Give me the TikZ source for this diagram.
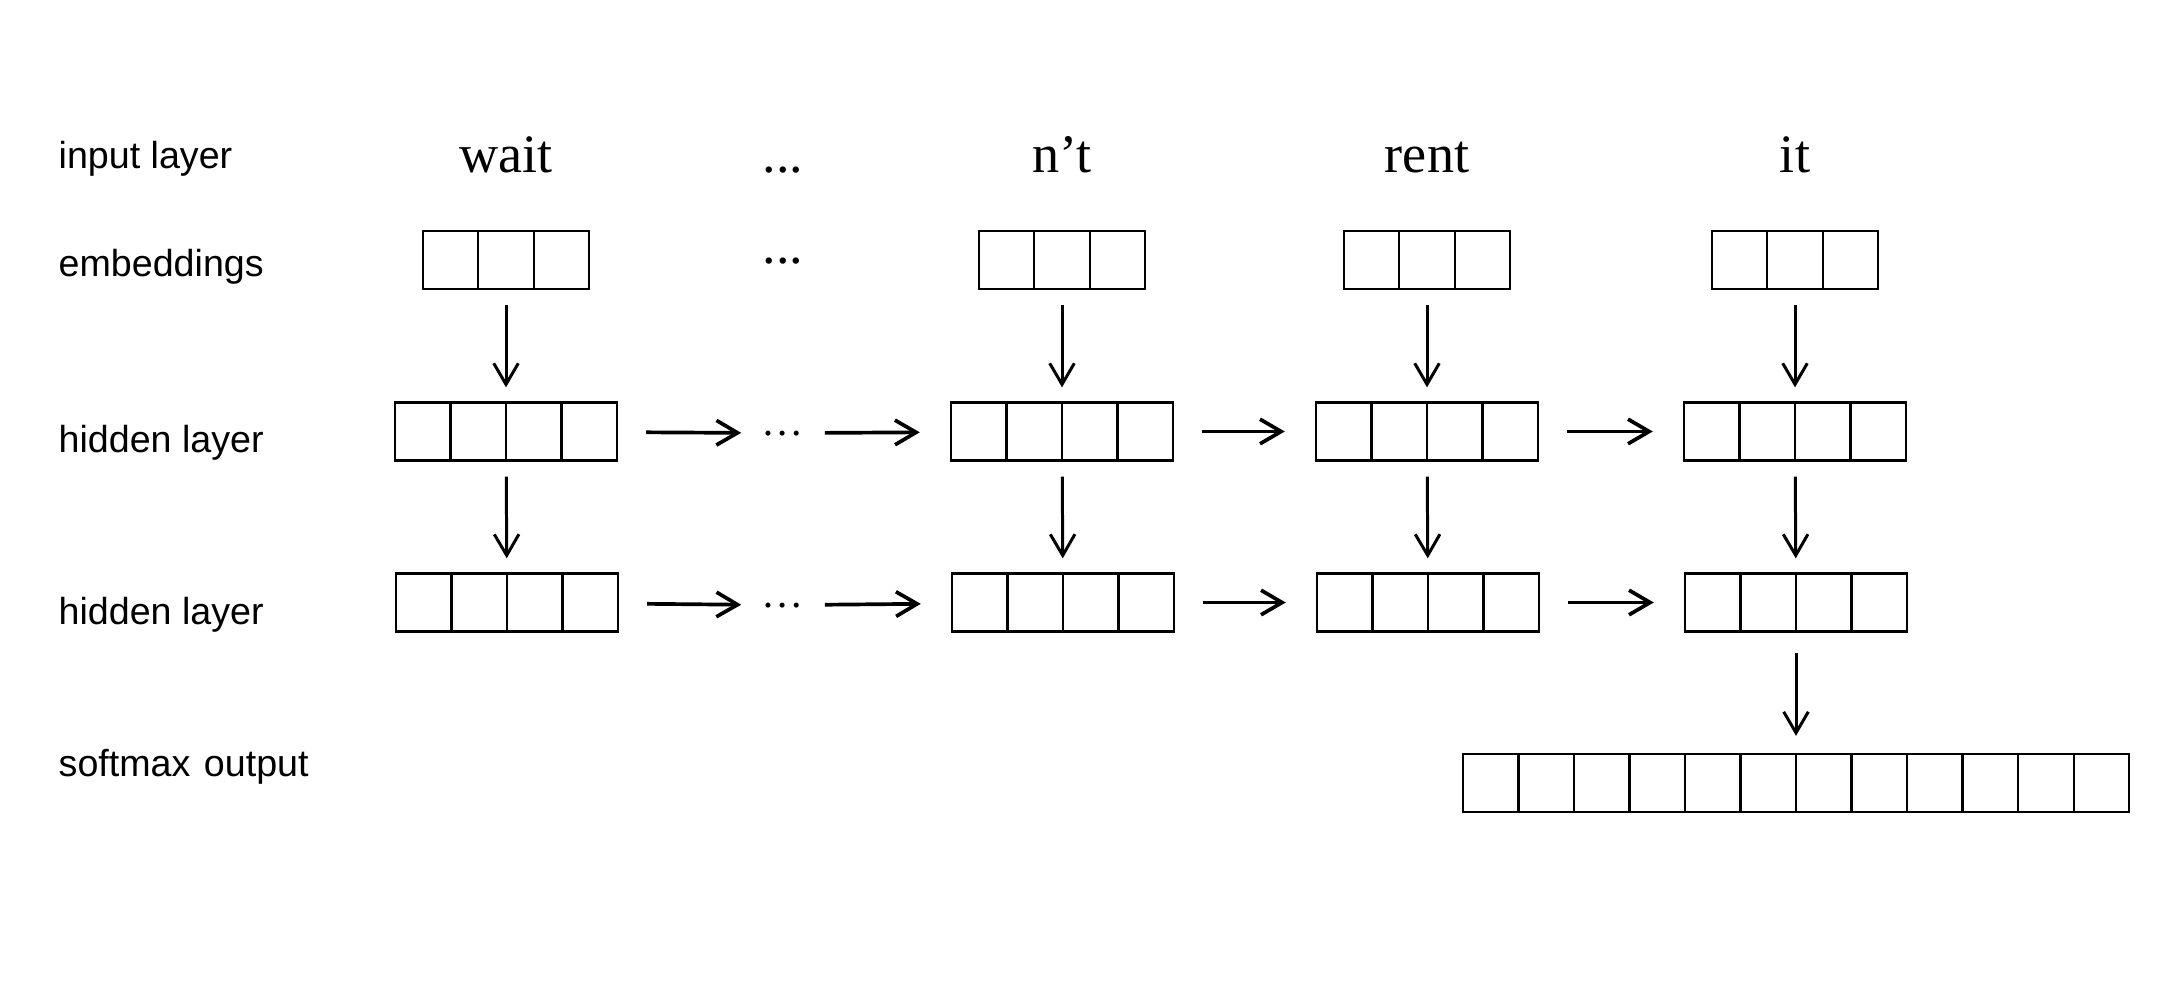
\documentclass[tikz,border=0pt]{standalone}
\usepackage{fontspec}
\setmainfont{Liberation Serif}
\newfontfamily\labelfont{Liberation Sans}
\usetikzlibrary{arrows.meta}
\begin{document}
\begin{tikzpicture}[x=0.01cm, y=-0.01cm,
  vec/.style={draw, line width=0.65pt, inner sep=0pt,
    minimum height=0.58cm, minimum width=#1*0.555cm,
    path picture={\foreach \k in {2,...,#1}{
      \draw[line width=0.65pt]
        ([xshift={(\k-1)*0.555cm}]path picture bounding box.north west) --
        ([xshift={(\k-1)*0.555cm}]path picture bounding box.south west);}}},
  rowlabel/.style={anchor=base west, inner sep=0pt, font=\labelfont\fontsize{10.7pt}{12pt}\selectfont},
  word/.style={anchor=base, inner sep=0pt, font=\fontsize{15.4pt}{18pt}\selectfont},
  smalldots/.style={anchor=base, inner sep=0pt, font=\fontsize{12pt}{14pt}\selectfont},
  down/.style={-{Straight Barb[length=6pt,width=7pt]}, line width=0.85pt,
    shorten <=0.15cm, shorten >=0.14cm},
  across/.style={-{Straight Barb[length=6pt,width=7pt]}, line width=1.05pt,
    shorten <=0.28cm, shorten >=0.30cm}]

% canvas
\fill[white] (0,0) rectangle (2182,1000);
\useasboundingbox (0,0) rectangle (2182,1000);

% row labels
\node[rowlabel] (lin)  at (58,168) {input layer};
\node[rowlabel] (lemb) at (58,276) {embeddings};
\node[rowlabel] (lh1)  at (58,452) {hidden layer};
\node[rowlabel] (lh2)  at (58,624) {hidden layer};
\node[rowlabel] (lout) at (58,776) {softmax\hspace{0.36em}output};

% input words
\node[word] (w1) at (506,172) {wait};
\node[word] (wd) at (783,172) {...};
\node[word] (w2) at (1062,172) {n’t};
\node[word] (w3) at (1427,172) {rent};
\node[word] (w4) at (1795,172) {it};

% embeddings
\node[vec=3] (e1) at (506,260) {};
\node[word] (ed) at (783,263) {...};
\node[vec=3] (e2) at (1062,260) {};
\node[vec=3] (e3) at (1427,260) {};
\node[vec=3] (e4) at (1795,260) {};

% first hidden layer
\node[vec=4] (a1) at (506,431.5) {};
\node[smalldots] (ad) at (783,435) {…};
\node[vec=4] (a2) at (1062,431.5) {};
\node[vec=4] (a3) at (1427,431.5) {};
\node[vec=4] (a4) at (1795,431.5) {};

% second hidden layer
\node[vec=4] (b1) at (507,602.5) {};
\node[smalldots] (bd) at (783,607) {…};
\node[vec=4] (b2) at (1063,602.5) {};
\node[vec=4] (b3) at (1428,602.5) {};
\node[vec=4] (b4) at (1796,602.5) {};

% softmax output
\node[vec=12] (out) at (1796,783) {};

% embeddings -> hidden -> hidden
\foreach \i in {1,2,3,4}{
  \draw[down] (e\i) -- (a\i);
  \draw[down] (a\i) -- (b\i);
}
\draw[down, shorten <=0.20cm, shorten >=0.17cm] (b4) -- (out);

% recurrent connections
\foreach \r in {a,b}{
  \draw[across, shorten >=0.20cm] (\r1) -- (\r d);
  \draw[across, shorten <=0.20cm] (\r d) -- (\r2);
  \draw[across] (\r2) -- (\r3);
  \draw[across] (\r3) -- (\r4);
}
\end{tikzpicture}
\end{document}
